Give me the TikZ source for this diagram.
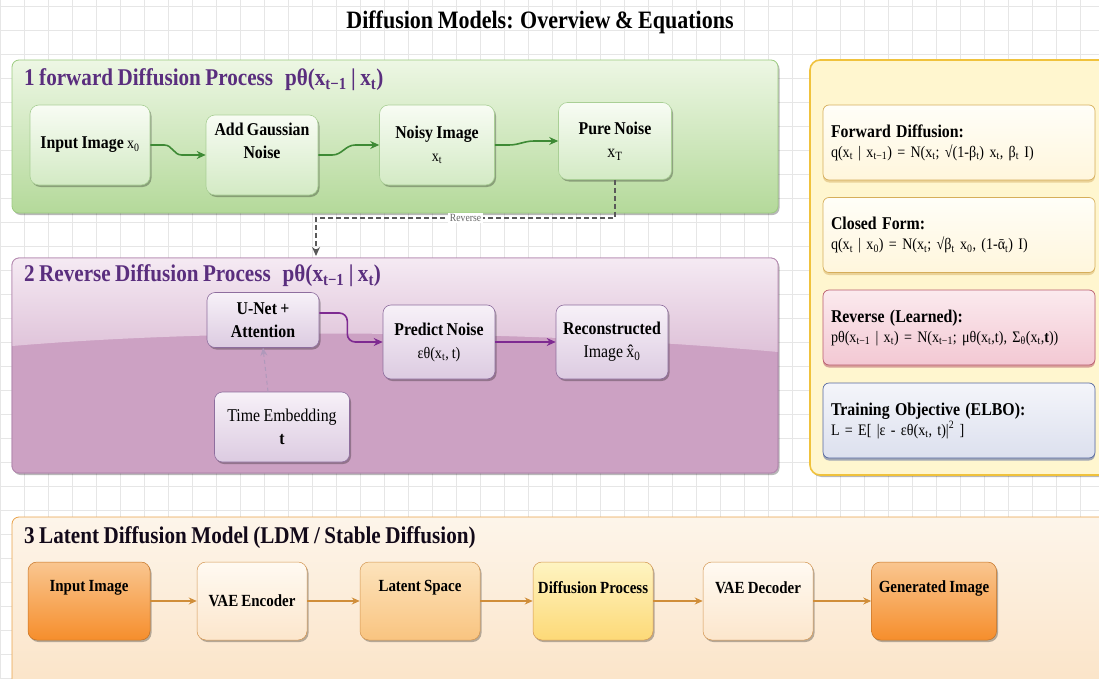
\documentclass[tikz,border=0pt]{standalone}
\usepackage{fontspec}
\setmainfont{Liberation Serif}[FakeStretch=0.88,WordSpace=0.85]
\usetikzlibrary{calc,shadows,arrows.meta}
\definecolor{gridc}{HTML}{E6E6E6}
\definecolor{gtop}{HTML}{EDF7E4}
\definecolor{gbot}{HTML}{B4D99A}
\definecolor{gbord}{HTML}{9CCB80}
\definecolor{gnt}{HTML}{F8FCF4}
\definecolor{gnbot}{HTML}{D3EAC4}
\definecolor{gnb}{HTML}{A9CF95}
\definecolor{garc}{HTML}{3E8A35}
\definecolor{ptop}{HTML}{F5EAF3}
\definecolor{pbot}{HTML}{CCA1C3}
\definecolor{pbord}{HTML}{B58AB0}
\definecolor{pnt}{HTML}{F7F1F8}
\definecolor{pnbot}{HTML}{DCCBE1}
\definecolor{pnb}{HTML}{8E6E9E}
\definecolor{parc}{HTML}{7E2A91}
\definecolor{ptitle}{HTML}{5A2E7E}
\definecolor{ybg}{HTML}{FFF6CF}
\definecolor{ybord}{HTML}{F0C23C}
\definecolor{eqt}{HTML}{FFFEF8}
\definecolor{eqb}{HTML}{FFF6DC}
\definecolor{eqbord}{HTML}{D6AE5A}
\definecolor{rvt}{HTML}{FBEAEE}
\definecolor{rvb}{HTML}{F3C8D3}
\definecolor{rvbord}{HTML}{B85A6C}
\definecolor{trt}{HTML}{F4F5FA}
\definecolor{trb}{HTML}{DCE0EE}
\definecolor{trbord}{HTML}{55679F}
\definecolor{otop}{HTML}{FDF5EA}
\definecolor{obot}{HTML}{FBE3C6}
\definecolor{obord}{HTML}{E9A24A}
\definecolor{orT}{HTML}{F9C690}
\definecolor{orB}{HTML}{F68E2C}
\definecolor{lgT}{HTML}{FFFAF2}
\definecolor{lgB}{HTML}{FCE6CC}
\definecolor{ltT}{HTML}{FCE3BC}
\definecolor{ltB}{HTML}{F9C480}
\definecolor{ylT}{HTML}{FEF4C2}
\definecolor{ylB}{HTML}{FDD977}
\definecolor{onb}{HTML}{D39550}
\definecolor{oarc}{HTML}{D08E3A}
\newcommand\ssub[1]{\textsubscript{#1}}
\newcommand\eqheadfont{\fontsize{18}{21}\selectfont\bfseries}
\begin{document}
\begin{tikzpicture}[x=1pt,y=-1pt,
  shd/.style={drop shadow={shadow xshift=1.5pt,shadow yshift=-2pt,opacity=0.28,fill=black}},
  secbox/.style={rounded corners=7pt,line width=0.8pt},
  gridline/.style={draw=gridc,line width=0.4pt},
  sectitle/.style={anchor=west,text=ptitle,font=\fontsize{24}{27}\selectfont\bfseries,inner sep=0pt},
  gbox/.style={shape=rectangle,rounded corners=9pt,draw=gnb,line width=0.6pt,top color=gnt,bottom color=gnbot,shd,align=center,font=\fontsize{18}{23}\selectfont\bfseries,inner sep=3pt},
  pbox/.style={shape=rectangle,rounded corners=8pt,draw=pnb,line width=0.6pt,top color=pnt,bottom color=pnbot,shd,align=center,font=\fontsize{18}{23}\selectfont\bfseries,inner sep=3pt},
  eqbox/.style={shape=rectangle,rounded corners=6pt,line width=0.7pt,align=left,text width=256pt,inner xsep=8pt,minimum height=75pt,font=\fontsize{16}{20}\selectfont,drop shadow={shadow xshift=0pt,shadow yshift=-2.5pt,opacity=0.55,fill=#1}},
  obox/.style={shape=rectangle,rounded corners=9pt,draw=onb,line width=0.5pt,minimum height=78pt,shd},
  olbl/.style={font=\fontsize{17}{19}\selectfont\bfseries,inner sep=0pt},
  garr/.style={draw=garc,line width=1.6pt,-{Stealth[length=9pt,width=8pt]}},
  parr/.style={draw=parc,line width=1.6pt,-{Stealth[length=9pt,width=8pt]}},
  oarr/.style={draw=oarc,line width=1.3pt,-{Stealth[length=8pt,width=7pt]}},
  revdash/.style={draw=black!65,line width=1.3pt,dash pattern=on 5pt off 3pt,-{Stealth[length=9pt,width=8pt]}},
  tdash/.style={draw=pnb!70,line width=1pt,dash pattern=on 4pt off 3pt,-{Stealth[length=8pt,width=7pt]}},
  revlbl/.style={fill=white,inner sep=1.5pt,text=black!60,font=\fontsize{11}{12}\selectfont}
]
\useasboundingbox (0,0) rectangle (1099,679);
\fill[white] (0,0) rectangle (1099,679);
% grid
\foreach \i in {0,24,...,1099} \draw[gridline] (\i,0) -- (\i,679);
\foreach \j in {6,30,...,679} \draw[gridline] (0,\j) -- (1099,\j);

% title
\node[font=\fontsize{25}{28}\selectfont\bfseries] (title) at (540,22) {Diffusion Models: Overview \& Equations};

% ---------- section 1 ----------
\draw[secbox,draw=gbord,top color=gtop,bottom color=gbot,shd] (12,60) rectangle (778,213);
\node[sectitle] (t1) at (24,80) {1 forward Diffusion Process\enspace pθ(x\ssub{t−1} | x\ssub{t})};

\node[gbox,minimum width=120pt,minimum height=80pt] (n1) at (90,145) {Input Image {\mdseries\fontsize{16}{18}\selectfont x\ssub{0}}};
\node[gbox,minimum width=112pt,minimum height=80pt] (n2) at (262,155) {Add Gaussian\\Noise\\[6pt]};
\node[gbox,minimum width=115pt,minimum height=80pt] (n3) at (437,145) {Noisy Image\\{\mdseries\fontsize{16}{18}\selectfont x\ssub{t}}};
\node[gbox,minimum width=113pt,minimum height=77pt] (n4) at (615,141) {Pure Noise\\{\mdseries\fontsize{18}{18}\selectfont x\ssub{T}}};

\draw[garr] (n1.east) -- ++(14,0) to[out=0,in=180] ($(n2.west)+(-24,0)$) -- (n2.west);
\draw[garr] (n2.east) -- ++(14,0) to[out=0,in=180] ($(n3.west)+(-24,0)$) -- (n3.west);
\draw[garr] (n3.east) -- ++(14,0) to[out=0,in=180] ($(n4.west)+(-24,0)$) -- (n4.west);

% ---------- section 2 ----------
\begin{scope}
\draw[secbox,draw=pbord,fill=pbot,shd] (12,258) rectangle (778,473);
\clip[rounded corners=7pt] (12,258) rectangle (778,473);
\shade[top color=ptop,bottom color=pbot!55!ptop] (12,258) -- (778,258) -- (778,352) .. controls (560,332) and (250,326) .. (12,346) -- cycle;
\end{scope}
\draw[secbox,draw=pbord,line width=0.8pt] (12,258) rectangle (778,473);
\node[sectitle] (t2) at (24,276) {2 Reverse Diffusion Process\enspace pθ(x\ssub{t−1} | x\ssub{t})};

\node[pbox,minimum width=112pt,minimum height=55pt] (un) at (263,320) {U-Net +\\Attention};
\node[pbox,minimum width=112pt,minimum height=74pt] (pr) at (439,342) {Predict Noise\\{\mdseries\fontsize{16}{18}\selectfont εθ(x\ssub{t}, t)}};
\node[pbox,minimum width=112pt,minimum height=74pt] (rc) at (612,342) {Reconstructed\\{\mdseries Image x̂\ssub{0}}};
\node[pbox,minimum width=135pt,minimum height=70pt] (te) at (282,427) {{\mdseries Time Embedding}\\t};

\draw[parr,rounded corners=8pt] ($(un.east)+(0,-7)$) -- ++(28,0) |- (pr.west);
\draw[parr] (pr.east) -- (rc.west);
\draw[tdash] ($(te.north)+(-14,0)$) -- (un.south);

% reverse connector
\coordinate (revend) at (316,256);
\draw[revdash] (n4.south) |- node[pos=0.75,revlbl] (revtxt) {Reverse} ($(revend)+(0,-38)$) -- (revend);

% ---------- right panel ----------
\draw[rounded corners=10pt,fill=ybg,draw=ybord,line width=1.6pt,shd] (810,60) rectangle (1115,475);
\node[eqbox=eqbord!90,draw=eqbord,top color=eqt,bottom color=eqb] (fd) at (959,142.5) {{\eqheadfont Forward Diffusion:}\\q(x\ssub{t} | x\ssub{t−1}) = N(x\ssub{t}; √(1-β\ssub{t}) x\ssub{t}, β\ssub{t} I)};
\node[eqbox=eqbord!90,draw=eqbord,top color=eqt,bottom color=eqb] (cf) at (959,235) {{\eqheadfont Closed Form:}\\q(x\ssub{t} | x\ssub{0}) = N(x\ssub{t}; √β\ssub{t} x\ssub{0}, (1-ᾱ\ssub{t}) I)};
\node[eqbox=rvbord,draw=rvbord,top color=rvt,bottom color=rvb] (rv) at (959,327.5) {{\eqheadfont Reverse (Learned):}\\pθ(x\ssub{t−1} | x\ssub{t}) = N(x\ssub{t−1}; μθ(x\ssub{t},t), Σ\ssub{θ}(x\ssub{t},\textbf{t}))};
\node[eqbox=trbord,draw=trbord,top color=trt,bottom color=trb] (tr) at (959,420.5) {{\eqheadfont Training Objective (ELBO):}\\L = E[ |ε - εθ(x\ssub{t}, t)|\textsuperscript{2} ]};

% ---------- section 3 ----------
\draw[secbox,draw=obord,top color=otop,bottom color=obot,shd] (12,517) rectangle (1115,695);
\node[sectitle,text=black!80!ptitle] (t3) at (24,538) {3 Latent Diffusion Model (LDM / Stable Diffusion)};

\node[obox,minimum width=122pt,top color=orT,bottom color=orB,draw=orB!80!black] (a1) at (89,601) {};
\node[obox,minimum width=110pt,top color=lgT,bottom color=lgB] (a2) at (252,601) {};
\node[obox,minimum width=120pt,top color=ltT,bottom color=ltB] (a3) at (420,601) {};
\node[obox,minimum width=120pt,top color=ylT,bottom color=ylB] (a4) at (593,601) {};
\node[obox,minimum width=110pt,top color=lgT,bottom color=lgB] (a5) at (758,601) {};
\node[obox,minimum width=125pt,top color=orT,bottom color=orB,draw=orB!80!black] (a6) at (934,601) {};

\node[olbl] (a1t) at ($(a1.center)+(0,-13)$) {Input Image};
\node[olbl] (a2t) at ($(a2.center)+(0,0)$) {VAE Encoder};
\node[olbl] (a3t) at ($(a3.center)+(0,-13)$) {Latent Space};
\node[olbl] (a4t) at ($(a4.center)+(0,-13)$) {Diffusion Process};
\node[olbl] (a5t) at ($(a5.center)+(0,-13)$) {VAE Decoder};
\node[olbl] (a6t) at ($(a6.center)+(0,-13)$) {Generated Image};

\draw[oarr] (a1.east) -- (a2.west);
\draw[oarr] (a2.east) -- (a3.west);
\draw[oarr] (a3.east) -- (a4.west);
\draw[oarr] (a4.east) -- (a5.west);
\draw[oarr] (a5.east) -- (a6.west);
\end{tikzpicture}
\end{document}
